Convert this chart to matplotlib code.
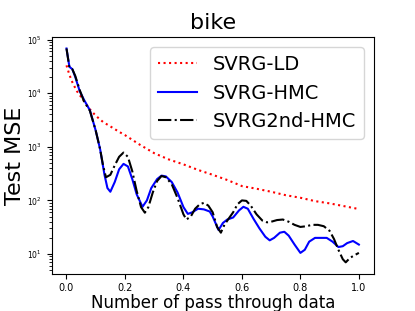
import matplotlib
matplotlib.use("Agg")
import matplotlib.pyplot as plt

x_ld = [0.0, 0.01, 0.02, 0.035, 0.05, 0.065, 0.08, 0.1, 0.125, 0.15, 0.18, 0.2, 0.25, 0.3, 0.35,
        0.4, 0.45, 0.5, 0.55, 0.6, 0.65, 0.7, 0.75, 0.8, 0.85, 0.9, 0.95, 1.0]
y_ld = [33000, 22000, 16000, 11000, 8500, 6500, 5000, 3800, 2900, 2400, 1900, 1650, 1100, 760, 580,
        470, 370, 300, 240, 185, 165, 145, 125, 112, 97, 88, 78, 69]

x_hmc = [0.0, 0.01, 0.02, 0.03, 0.045, 0.06, 0.08, 0.10, 0.115, 0.13, 0.14, 0.15, 0.165, 0.18, 0.195,
         0.21, 0.225, 0.24, 0.26, 0.275, 0.29, 0.31, 0.325, 0.34, 0.36, 0.38, 0.40, 0.415, 0.43,
         0.45, 0.47, 0.49, 0.50, 0.52, 0.535, 0.55, 0.57, 0.59, 0.605, 0.62, 0.64, 0.66, 0.68,
         0.695, 0.71, 0.73, 0.745, 0.76, 0.78, 0.80, 0.815, 0.83, 0.85, 0.87, 0.89, 0.91, 0.93,
         0.945, 0.96, 0.98, 1.0]
y_hmc = [68000, 31000, 28000, 20000, 11000, 7500, 4800, 2000, 900, 300, 170, 145, 220, 380, 480,
         430, 250, 130, 76, 100, 170, 250, 290, 280, 220, 140, 75, 56, 60,
         70, 68, 62, 50, 28, 38, 44, 48, 65, 76, 70, 45, 30, 21,
         18, 20, 25, 26, 22, 15, 10.5, 12, 17, 20, 20, 20, 17, 13.5,
         14, 16, 17.5, 15]

x_2nd = [0.0, 0.01, 0.02, 0.03, 0.045, 0.06, 0.08, 0.10, 0.115, 0.125, 0.135, 0.15, 0.165, 0.18, 0.195,
         0.21, 0.225, 0.24, 0.255, 0.268, 0.28, 0.295, 0.31, 0.325, 0.34, 0.36, 0.38, 0.40, 0.41,
         0.425, 0.44, 0.456, 0.47, 0.485, 0.50, 0.515, 0.528, 0.54, 0.555, 0.57, 0.585, 0.60,
         0.615, 0.63, 0.65, 0.67, 0.686, 0.70, 0.72, 0.74, 0.76, 0.78, 0.80, 0.82, 0.84, 0.86,
         0.88, 0.90, 0.915, 0.93, 0.945, 0.955, 0.97, 0.985, 1.0]
y_2nd = [68000, 30000, 28000, 21000, 11500, 7000, 4700, 2000, 900, 450, 270, 300, 450, 650, 780,
         650, 350, 150, 75, 59, 75, 140, 230, 285, 270, 200, 110, 55, 44,
         50, 70, 85, 90, 80, 60, 32, 25, 35, 46, 60, 85, 100,
         98, 80, 55, 42, 39, 40, 43, 44, 40, 35, 32, 33, 35, 35,
         33, 27, 19, 12, 8, 7, 8.5, 9.5, 10.5]

fig, ax = plt.subplots(figsize=(4.15, 3.11), dpi=100)
ax.plot(x_ld, y_ld, color="red", linestyle=":", linewidth=1.5, label="SVRG-LD")
ax.plot(x_hmc, y_hmc, color="blue", linestyle="-", linewidth=1.5, label="SVRG-HMC")
ax.plot(x_2nd, y_2nd, color="black", linestyle="-.", linewidth=1.5, label="SVRG2nd-HMC")
ax.set_yscale("log")
ax.set_xlim(-0.05, 1.05)
ax.set_ylim(4.3, 1.1e5)
ax.set_xticks([0.0, 0.2, 0.4, 0.6, 0.8, 1.0])
ax.tick_params(axis="x", labelsize=7, pad=3)
ax.tick_params(axis="y", labelsize=5.5)
ax.set_title("bike", fontsize=16)
ax.set_xlabel("Number of pass through data", fontsize=12, labelpad=1)
ax.set_ylabel("Test MSE", fontsize=16, labelpad=2)
ax.legend(loc="upper right", fontsize=14)
fig.subplots_adjust(left=0.125, right=0.9, top=0.88, bottom=0.12)
fig.savefig("out.png", dpi=100)
